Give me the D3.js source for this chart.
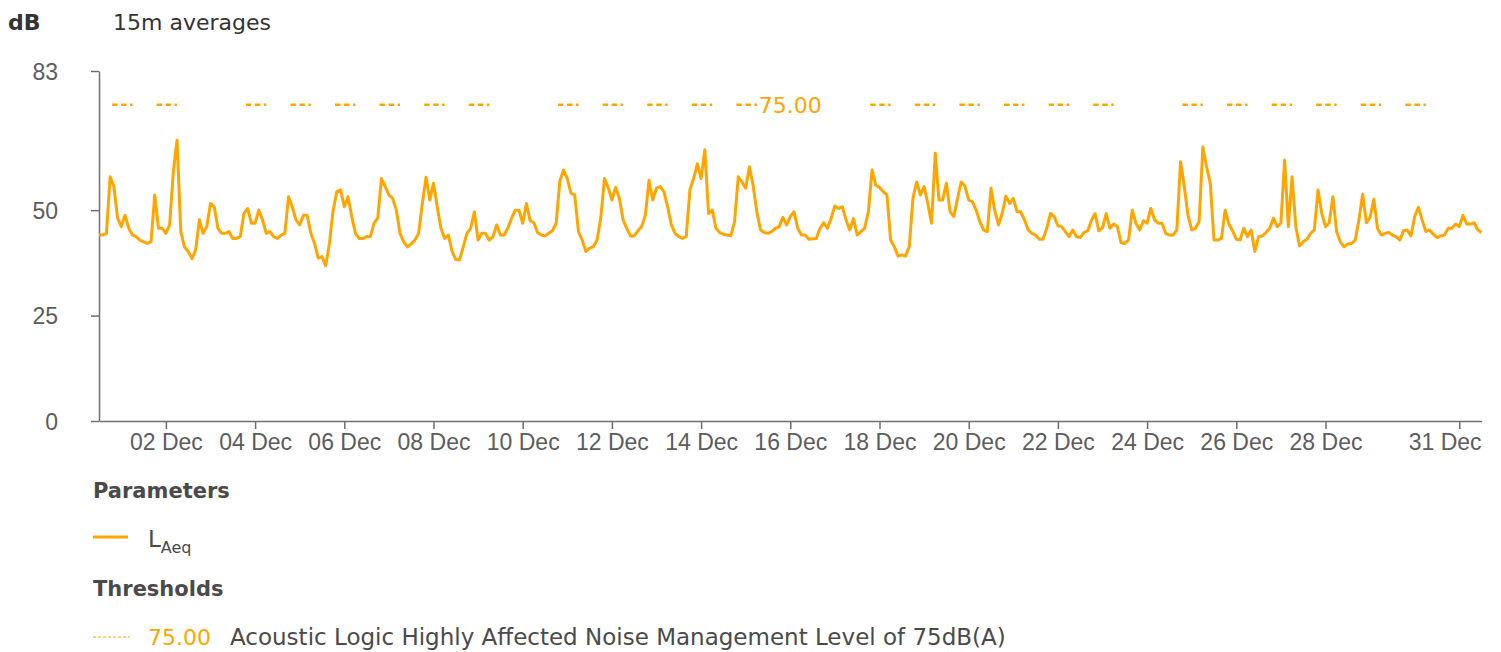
<!DOCTYPE html>
<html>
<head>
<meta charset="utf-8">
<script src="https://cdn.jsdelivr.net/npm/d3@7"></script>
<style>
  body { margin: 0; background: #fff; }
  svg { display: block; font-family: 'DejaVu Sans', sans-serif; }
</style>
</head>
<body>
<svg id="chart" width="1501" height="652"></svg>
<script>
// L_Aeq, read every 2 hours from 30 Nov 12:00 to 31 Dec 12:00 (one row = one day)
const START = '2023-11-30T12:00:00Z';
const END = '2023-12-31T12:00:00Z';
const STEP_HOURS = 2;
const laeq = [
  44.1, 44.1, 44.5, 57.9, 55.6, 48.1, 46.1, 48.8, 45.7, 44.1, 43.7, 42.9,
  42.5, 42.1, 42.5, 53.6, 45.7, 45.7, 44.5, 46.5, 59.1, 66.6, 44.9, 41.3,
  40.2, 38.5, 40.5, 47.7, 44.5, 46.1, 51.6, 50.8, 45.7, 44.5, 44.5, 44.9,
  43.3, 43.3, 43.7, 49.2, 50.4, 46.9, 46.9, 50.0, 47.7, 44.5, 44.9, 43.7,
  43.3, 44.1, 44.5, 53.2, 50.8, 47.7, 46.5, 48.8, 48.8, 44.5, 42.1, 38.6,
  39.0, 36.8, 42.1, 50.0, 54.4, 54.8, 50.8, 53.2, 48.5, 44.5, 43.3, 43.3,
  43.7, 43.7, 46.9, 48.1, 57.5, 55.6, 53.6, 52.8, 50.0, 44.5, 42.5, 41.3,
  42.0, 42.9, 44.5, 51.6, 57.8, 52.4, 56.4, 50.8, 45.7, 43.3, 44.1, 40.2,
  38.3, 38.2, 41.3, 44.5, 45.7, 49.6, 42.9, 44.5, 44.5, 42.9, 43.7, 46.5,
  44.1, 44.1, 45.7, 48.1, 50.0, 50.0, 46.9, 51.6, 47.5, 47.0, 44.7, 44.1,
  43.9, 44.5, 45.1, 46.9, 56.9, 59.5, 57.5, 54.0, 53.6, 44.9, 42.9, 40.2,
  41.0, 41.3, 42.9, 48.1, 57.5, 55.4, 52.4, 55.4, 52.8, 47.7, 45.7, 43.9,
  43.9, 45.1, 46.1, 48.8, 57.1, 52.4, 55.2, 55.6, 54.4, 50.8, 46.5, 44.5,
  43.7, 43.3, 43.7, 54.9, 57.5, 61.0, 57.5, 64.3, 49.2, 50.0, 45.7, 44.7,
  44.3, 44.1, 43.9, 47.3, 57.9, 56.7, 55.2, 60.3, 55.9, 49.6, 45.3, 44.7,
  44.5, 44.9, 45.7, 46.1, 48.3, 46.5, 48.5, 49.6, 45.7, 44.1, 44.1, 43.1,
  43.2, 43.3, 45.7, 47.0, 45.7, 48.1, 51.0, 50.4, 50.8, 47.7, 45.3, 48.0,
  44.1, 44.9, 45.7, 49.6, 59.5, 55.9, 55.4, 54.4, 53.6, 42.9, 41.3, 39.1,
  39.4, 39.1, 41.3, 52.8, 56.7, 53.6, 55.6, 51.6, 46.9, 63.5, 52.4, 52.4,
  56.4, 49.6, 48.5, 52.8, 56.7, 55.7, 52.4, 52.0, 50.0, 47.3, 45.3, 44.9,
  55.2, 50.0, 46.5, 49.2, 53.3, 51.6, 52.8, 49.6, 49.6, 47.7, 45.3, 44.5,
  44.1, 43.1, 43.1, 45.7, 49.2, 48.5, 46.3, 46.1, 44.9, 43.7, 45.3, 43.7,
  43.5, 44.7, 45.1, 47.5, 49.2, 45.1, 45.8, 49.2, 45.7, 46.7, 46.1, 42.3,
  42.1, 42.9, 50.0, 46.9, 45.3, 47.5, 46.9, 50.4, 47.7, 46.9, 46.9, 44.5,
  44.1, 44.1, 45.3, 61.5, 55.6, 48.8, 45.3, 45.7, 47.3, 65.0, 60.3, 56.4,
  42.9, 42.9, 43.3, 50.0, 46.7, 45.1, 43.1, 42.9, 45.7, 43.7, 45.3, 40.2,
  43.7, 43.9, 44.7, 45.7, 48.1, 46.1, 46.9, 61.9, 46.1, 57.9, 46.2, 41.5,
  42.5, 43.1, 44.5, 45.3, 54.8, 49.2, 46.1, 47.0, 53.2, 44.9, 42.5, 41.3,
  42.0, 42.1, 42.9, 47.7, 53.8, 47.0, 48.3, 52.6, 45.7, 44.1, 44.5, 44.7,
  44.1, 43.7, 42.9, 45.1, 45.3, 43.9, 48.5, 50.7, 47.7, 44.9, 45.3, 44.3,
  43.5, 43.9, 44.1, 45.7, 45.7, 46.7, 46.1, 48.8, 46.7, 46.7, 47.0, 45.3,
  44.7
];

const yTicks = [0, 25, 50, 83];
const xTickDates = ['2023-12-02', '2023-12-04', '2023-12-06', '2023-12-08', '2023-12-10',
  '2023-12-12', '2023-12-14', '2023-12-16', '2023-12-18', '2023-12-20', '2023-12-22',
  '2023-12-24', '2023-12-26', '2023-12-28', '2023-12-31'];

// threshold: applies on these December days, from 19:00 the day before to 06:00 (UTC)
const THRESHOLD = 75;
const thresholdDays = [1, 2, 4, 5, 6, 7, 8, 9, 11, 12, 13, 14, 15, 16, 18, 19, 20, 21, 22, 23,
  25, 26, 27, 28, 29, 30];
const thresholdWindow = [-5, 6];
const thresholdName = 'Acoustic Logic Highly Affected Noise Management Level of 75dB(A)';

const ORANGE = '#ffa500';
const AXIS = '#6f6f6f';
const TEXT = '#5c5c5c';
const DARK = '#333';
const LEGEND = '#4a4a4a';

const svg = d3.select('#chart');
const plot = { left: 99, right: 1481.6, top: 71, bottom: 421 };

const hour = 3600 * 1000;
const t0 = new Date(START).getTime();
const series = laeq.map((v, i) => ({ t: new Date(t0 + i * STEP_HOURS * hour), v }));

const x = d3.scaleUtc().domain([new Date(START), new Date(END)]).range([plot.left, plot.right]);
const y = d3.scaleLinear().domain([0, 83]).range([plot.bottom, plot.top]);

// axes
const yAxis = svg.append('g')
  .attr('transform', `translate(${plot.left},0)`)
  .call(d3.axisLeft(y).tickValues(yTicks).tickSize(8).tickSizeOuter(0).tickPadding(33));

const xAxis = svg.append('g')
  .attr('transform', `translate(0,${plot.bottom})`)
  .call(d3.axisBottom(x)
    .tickValues(xTickDates.map(d => new Date(d + 'T00:00:00Z')))
    .tickFormat(d3.utcFormat('%d %b'))
    .tickSize(8).tickSizeOuter(0).tickPadding(6));

[yAxis, xAxis].forEach(g => {
  g.selectAll('path, line').attr('stroke', AXIS).attr('stroke-width', 1.5);
  g.selectAll('text').attr('fill', TEXT).style('font-size', '23px');
});
yAxis.selectAll('text').attr('dy', '0.36em');
xAxis.selectAll('text').attr('dy', '0.67em');

// keep last date label inside the plot
xAxis.selectAll('.tick text').each(function () {
  const b = this.getBBox();
  const tx = +d3.select(this.parentNode).attr('transform').match(/translate\(([^,]+)/)[1];
  const over = tx + b.x + b.width - plot.right;
  if (over > 0) d3.select(this).attr('x', -over);
});

// threshold segments
const thrG = svg.append('g');
thresholdDays.forEach(d => {
  const day = new Date(Date.UTC(2023, 11, d)).getTime();
  const seg = thresholdWindow.map(h => ({ t: new Date(day + h * hour), v: THRESHOLD }));
  thrG.append('path')
    .attr('d', d3.line().x(p => x(p.t)).y(p => y(p.v))(seg))
    .attr('fill', 'none')
    .attr('stroke', ORANGE)
    .attr('stroke-width', 2.5)
    .attr('stroke-dasharray', '5.5 3.5');
});

// L_Aeq line
svg.append('path')
  .datum(series)
  .attr('d', d3.line().defined(p => p.v != null).x(p => x(p.t)).y(p => y(p.v)))
  .attr('fill', 'none')
  .attr('stroke', ORANGE)
  .attr('stroke-width', 3)
  .attr('stroke-linejoin', 'round');

// threshold label on a white patch
const midX = (plot.left + plot.right) / 2;
const labelG = svg.append('g');
const patch = labelG.append('rect').attr('fill', '#fff');
const thrLabel = labelG.append('text')
  .attr('x', midX).attr('y', y(THRESHOLD)).attr('dy', '0.36em')
  .attr('text-anchor', 'middle')
  .attr('fill', ORANGE).style('font-size', '22px')
  .text(d3.format('.2f')(THRESHOLD));
const lb = thrLabel.node().getBBox();
patch.attr('x', lb.x - 1).attr('y', lb.y).attr('width', lb.width + 2).attr('height', lb.height);

// titles
svg.append('text').attr('x', 8).attr('y', 30).attr('fill', DARK)
  .style('font-size', '22px').style('font-weight', 700).text('dB');
svg.append('text').attr('x', 113).attr('y', 30).attr('fill', DARK)
  .style('font-size', '22px').text('15m averages');

// legend
const lg = svg.append('g');
lg.append('text').attr('x', 93).attr('y', 498).attr('fill', LEGEND)
  .style('font-size', '21px').style('font-weight', 700).text('Parameters');
lg.append('line').attr('x1', 93).attr('x2', 128).attr('y1', 537).attr('y2', 537)
  .attr('stroke', ORANGE).attr('stroke-width', 3);
const lt = lg.append('text').attr('x', 148).attr('y', 547).attr('fill', LEGEND)
  .style('font-size', '23px');
lt.append('tspan').text('L');
lt.append('tspan').attr('dy', 6).style('font-size', '16px').text('Aeq');

lg.append('text').attr('x', 93).attr('y', 596).attr('fill', LEGEND)
  .style('font-size', '21px').style('font-weight', 700).text('Thresholds');
lg.append('line').attr('x1', 93).attr('x2', 130).attr('y1', 637).attr('y2', 637)
  .attr('stroke', ORANGE).attr('stroke-width', 1).attr('stroke-dasharray', '3 2');
lg.append('text').attr('x', 148).attr('y', 645).attr('fill', ORANGE)
  .style('font-size', '22px').text(d3.format('.2f')(THRESHOLD));
lg.append('text').attr('x', 230).attr('y', 645).attr('fill', LEGEND)
  .style('font-size', '23px').text(thresholdName);
</script>
</body>
</html>
